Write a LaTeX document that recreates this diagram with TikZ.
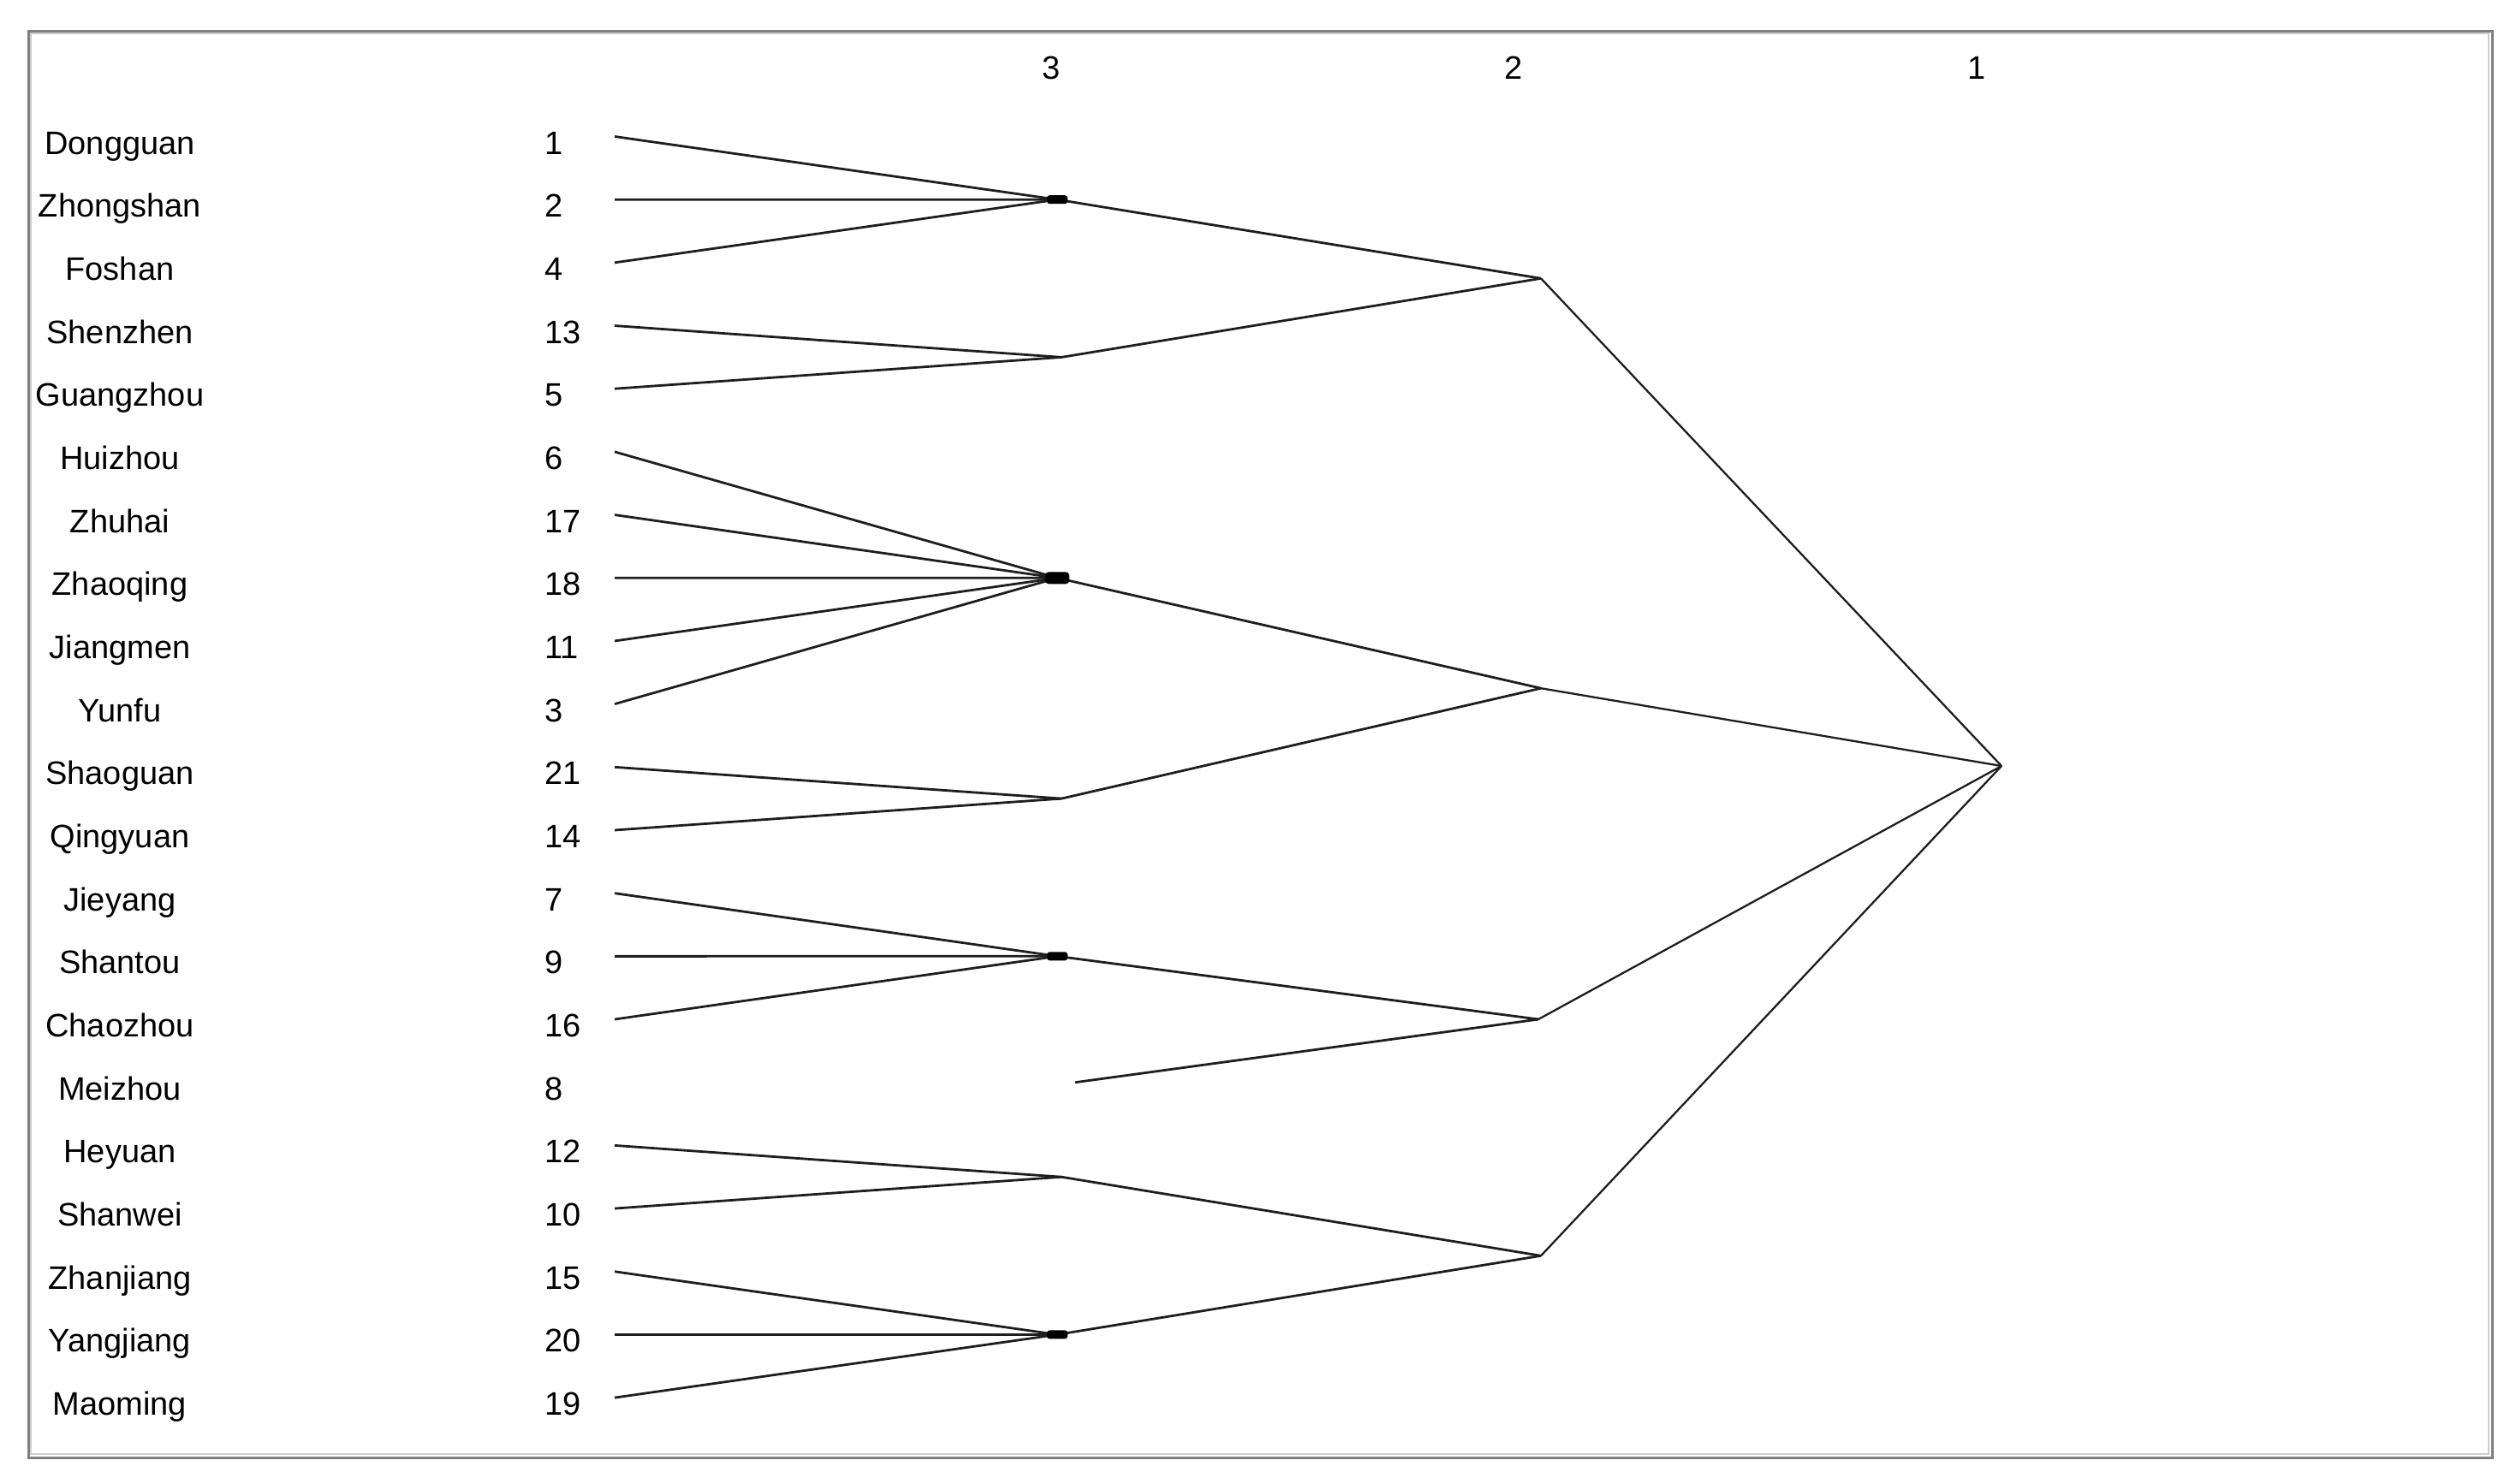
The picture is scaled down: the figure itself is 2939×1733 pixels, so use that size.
\documentclass[tikz,border=0pt]{standalone}
\usepackage{fontspec}
\setmainfont{Liberation Sans}
\definecolor{lnc}{RGB}{30,30,30}
\definecolor{frm}{RGB}{128,128,128}
\definecolor{frmlight}{RGB}{205,205,205}
\begin{document}
\begin{tikzpicture}[x=1pt,y=-1pt,
  lbl/.style={anchor=base,inner sep=0pt,font=\fontsize{38}{40}\selectfont},
  numlbl/.style={anchor=base west,inner sep=0pt,font=\fontsize{38}{40}\selectfont},
  link/.style={draw=lnc,line width=2.8pt},
  toplink/.style={draw=lnc,line width=2.3pt},
  blob/.style={fill=black}]
\useasboundingbox (0,0) rectangle (2939,1733);
\fill[white] (0,0) rectangle (2939,1733);
% frame
\draw[frmlight,line width=2pt] (36,39) rectangle (2907,1699);
\draw[frm,line width=3pt] (33,36) rectangle (2911,1703);
% level labels
\node[lbl] (t3) at (1228,92) {3};
\node[lbl] (t2) at (1768,92) {2};
\node[lbl] (t1) at (2309,92) {1};
% rows
\foreach \i/\city/\num in {0/Dongguan/1,1/Zhongshan/2,2/Foshan/4,3/Shenzhen/13,4/Guangzhou/5,5/Huizhou/6,6/Zhuhai/17,7/Zhaoqing/18,8/Jiangmen/11,9/Yunfu/3,10/Shaoguan/21,11/Qingyuan/14,12/Jieyang/7,13/Shantou/9,14/Chaozhou/16,15/Meizhou/8,16/Heyuan/12,17/Shanwei/10,18/Zhanjiang/15,19/Yangjiang/20,20/Maoming/19}{
  \pgfmathsetmacro\yy{159.5+73.68*\i}
  \node[lbl] (c\i) at (140,\yy+20.5) {\city};
  \node[numlbl] (n\i) at (636,\yy+20.5) {\num};
  \coordinate (l\i) at (718,\yy);
}
% level-3 junctions
\coordinate (a1) at (1235,233.2);
\coordinate (a2) at (1240,417.4);
\coordinate (a3) at (1235,675.3);
\coordinate (a4) at (1240,933.1);
\coordinate (a5) at (1235,1117.3);
\coordinate (a6) at (1256,1264.7);
\coordinate (a7) at (1240,1375.2);
\coordinate (a8) at (1235,1559.4);
% level-2 junctions
\coordinate (b1) at (1800,325.3);
\coordinate (b2) at (1800,804.2);
\coordinate (b3) at (1797,1191);
\coordinate (b4) at (1800,1467.3);
% root
\coordinate (r) at (2338,895);
% leaves to level 3
\foreach \k in {0,1,2}{\draw[link] (l\k) -- (a1);}
\foreach \k in {3,4}{\draw[link] (l\k) -- (a2);}
\foreach \k in {5,6,7,8,9}{\draw[link] (l\k) -- (a3);}
\foreach \k in {10,11}{\draw[link] (l\k) -- (a4);}
\foreach \k in {12,13,14}{\draw[link] (l\k) -- (a5);}
\foreach \k in {16,17}{\draw[link] (l\k) -- (a7);}
\foreach \k in {18,19,20}{\draw[link] (l\k) -- (a8);}
% level 3 to level 2
\draw[link] (a1) -- (b1);
\draw[link] (a2) -- (b1);
\draw[link] (a3) -- (b2);
\draw[link] (a4) -- (b2);
\draw[link] (a5) -- (b3);
\draw[link] (a6) -- (b3);
\draw[link] (a7) -- (b4);
\draw[link] (a8) -- (b4);
% level 2 to root
\draw[toplink] (b1) -- (r);
\draw[toplink] (b2) -- (r);
\draw[toplink] (b3) -- (r);
\draw[toplink] (b4) -- (r);
% dark blobs where many lines merge
\fill[blob,rounded corners=3pt] ([xshift=-12pt,yshift=-5pt]a1) rectangle ([xshift=12pt,yshift=5pt]a1);
\fill[blob,rounded corners=4pt] ([xshift=-14pt,yshift=-7pt]a3) rectangle ([xshift=14pt,yshift=7pt]a3);
\fill[blob,rounded corners=3pt] ([xshift=-12pt,yshift=-5pt]a5) rectangle ([xshift=12pt,yshift=5pt]a5);
\fill[blob,rounded corners=3pt] ([xshift=-12pt,yshift=-5pt]a8) rectangle ([xshift=12pt,yshift=5pt]a8);
\end{tikzpicture}
\end{document}
